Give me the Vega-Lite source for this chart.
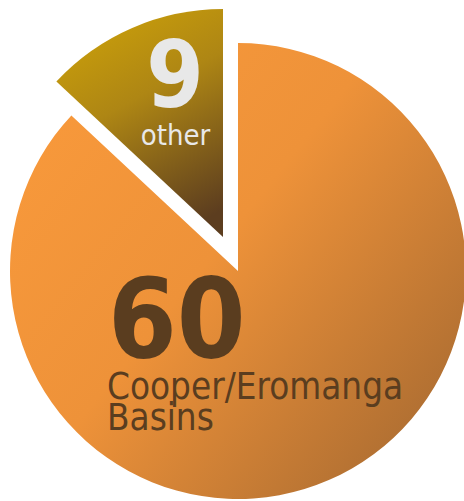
{
  "$schema": "https://vega.github.io/schema/vega-lite/v6.json",
  "autosize": {"type": "none"},
  "width": 456,
  "height": 456,
  "padding": {"left": 10, "top": 43, "right": 0, "bottom": 2},
  "background": "white",
  "config": {"view": {"stroke": null}},
  "data": {"values": [
    {"category": "Cooper/Eromanga Basins", "value": 60},
    {"category": "other", "value": 9}
  ]},
  "encoding": {
    "theta": {"field": "value", "type": "quantitative", "stack": true, "scale": {"domain": [0, 69]}},
    "detail": {"field": "category", "type": "nominal"},
    "order": {"field": "category", "type": "nominal", "sort": "ascending"}
  },
  "layer": [
    {
      "mark": {"type": "arc", "stroke": null, "fill": {"gradient": "linear", "x1": 0, "y1": 0.2, "x2": 1, "y2": 1, "stops": [{"offset": 0, "color": "#F8993B"}, {"offset": 0.4, "color": "#EE9239"}, {"offset": 1, "color": "#9E6530"}]}},
      "encoding": {"opacity": {"condition": {"test": "datum.category === 'other'", "value": 0}, "value": 1}}
    },
    {
      "mark": {"type": "arc", "stroke": null, "xOffset": -15, "yOffset": -34, "fill": {"gradient": "linear", "x1": 0.3, "y1": 0, "x2": 0.7, "y2": 1, "stops": [{"offset": 0, "color": "#CA9F0A"}, {"offset": 0.4, "color": "#AE8614"}, {"offset": 1, "color": "#5C3D1F"}]}},
      "encoding": {"opacity": {"condition": {"test": "datum.category === 'other'", "value": 1}, "value": 0}}
    },
    {
      "mark": {"type": "text", "radius": 155.9, "thetaOffset": 1.396, "align": "left", "baseline": "alphabetic", "font": "DejaVu Sans Condensed", "fontWeight": "bold", "fontSize": 110, "color": "#5A3D1F"},
      "encoding": {"text": {"condition": {"test": "datum.category === 'other'", "value": ""}, "field": "value", "type": "quantitative"}}
    },
    {
      "mark": {"type": "text", "radius": 183.2, "thetaOffset": 1.2066, "align": "left", "baseline": "alphabetic", "lineBreak": " ", "lineHeight": 31, "font": "DejaVu Sans Condensed", "fontSize": 36.5, "color": "#5A3D1F"},
      "encoding": {"text": {"condition": {"test": "datum.category === 'other'", "value": ""}, "field": "category", "type": "nominal"}}
    },
    {
      "mark": {"type": "text", "radius": 175.7, "thetaOffset": 0.043, "align": "center", "baseline": "alphabetic", "font": "DejaVu Sans Condensed", "fontWeight": "bold", "fontSize": 92, "color": "#E8E8E8"},
      "encoding": {"text": {"condition": {"test": "datum.category !== 'other'", "value": ""}, "field": "value", "type": "quantitative"}}
    },
    {
      "mark": {"type": "text", "radius": 140.6, "thetaOffset": -0.051, "align": "center", "baseline": "alphabetic", "font": "DejaVu Sans Condensed", "fontSize": 29, "color": "#E8E8E8"},
      "encoding": {"text": {"condition": {"test": "datum.category !== 'other'", "value": ""}, "field": "category", "type": "nominal"}}
    }
  ]
}
